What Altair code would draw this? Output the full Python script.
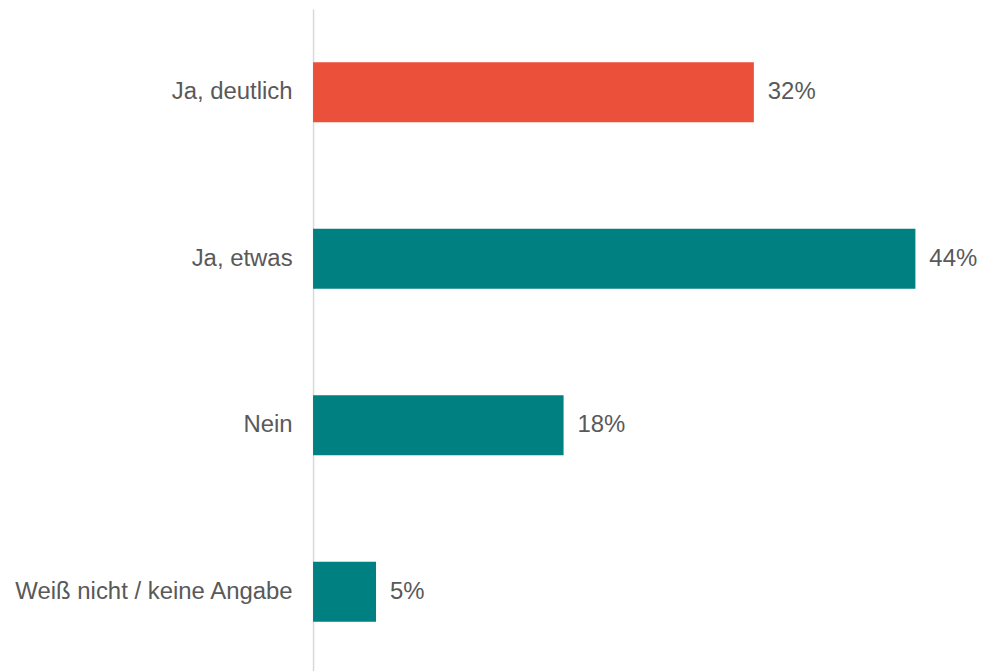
import altair as alt
import pandas as pd

categories = ["Ja, deutlich", "Ja, etwas", "Nein", "Weiß nicht / keine Angabe"]
values = [32.2, 44.0, 18.3, 4.6]
labels = ["32%", "44%", "18%", "5%"]
colors = ["#EA503A", "#008080", "#008080", "#008080"]

df = pd.DataFrame({"cat": categories, "val": values, "lab": labels, "col": colors})

FONT = "Liberation Sans"
GRAY = "#595959"
FS = 24

y = alt.Y("cat:N", sort=categories, title=None,
          scale=alt.Scale(paddingInner=0.64, paddingOuter=0.32),
          axis=alt.Axis(ticks=False, labelPadding=21, labelFontSize=FS, labelFont=FONT,
                        labelColor=GRAY, domainColor="#D9D9D9", domainWidth=1.5,
                        labelLimit=400))
x = alt.X("val:Q", title=None, scale=alt.Scale(domain=[0, 48.5], nice=False),
          axis=None)

bars = alt.Chart(df).mark_bar().encode(
    x=x, y=y, color=alt.Color("col:N", scale=None)
)
text = alt.Chart(df).mark_text(align="left", baseline="middle", dx=14, fontSize=FS,
                               font=FONT, color=GRAY).encode(
    x=x, y=alt.Y("cat:N", sort=categories), text="lab:N"
)

chart = (bars + text).properties(
    width=666, height=668,
    padding={"top": 0, "left": 5, "right": 0, "bottom": 0}
).configure_view(stroke=None)
chart.save("out.html", embed_options={"renderer": "svg", "actions": False})
